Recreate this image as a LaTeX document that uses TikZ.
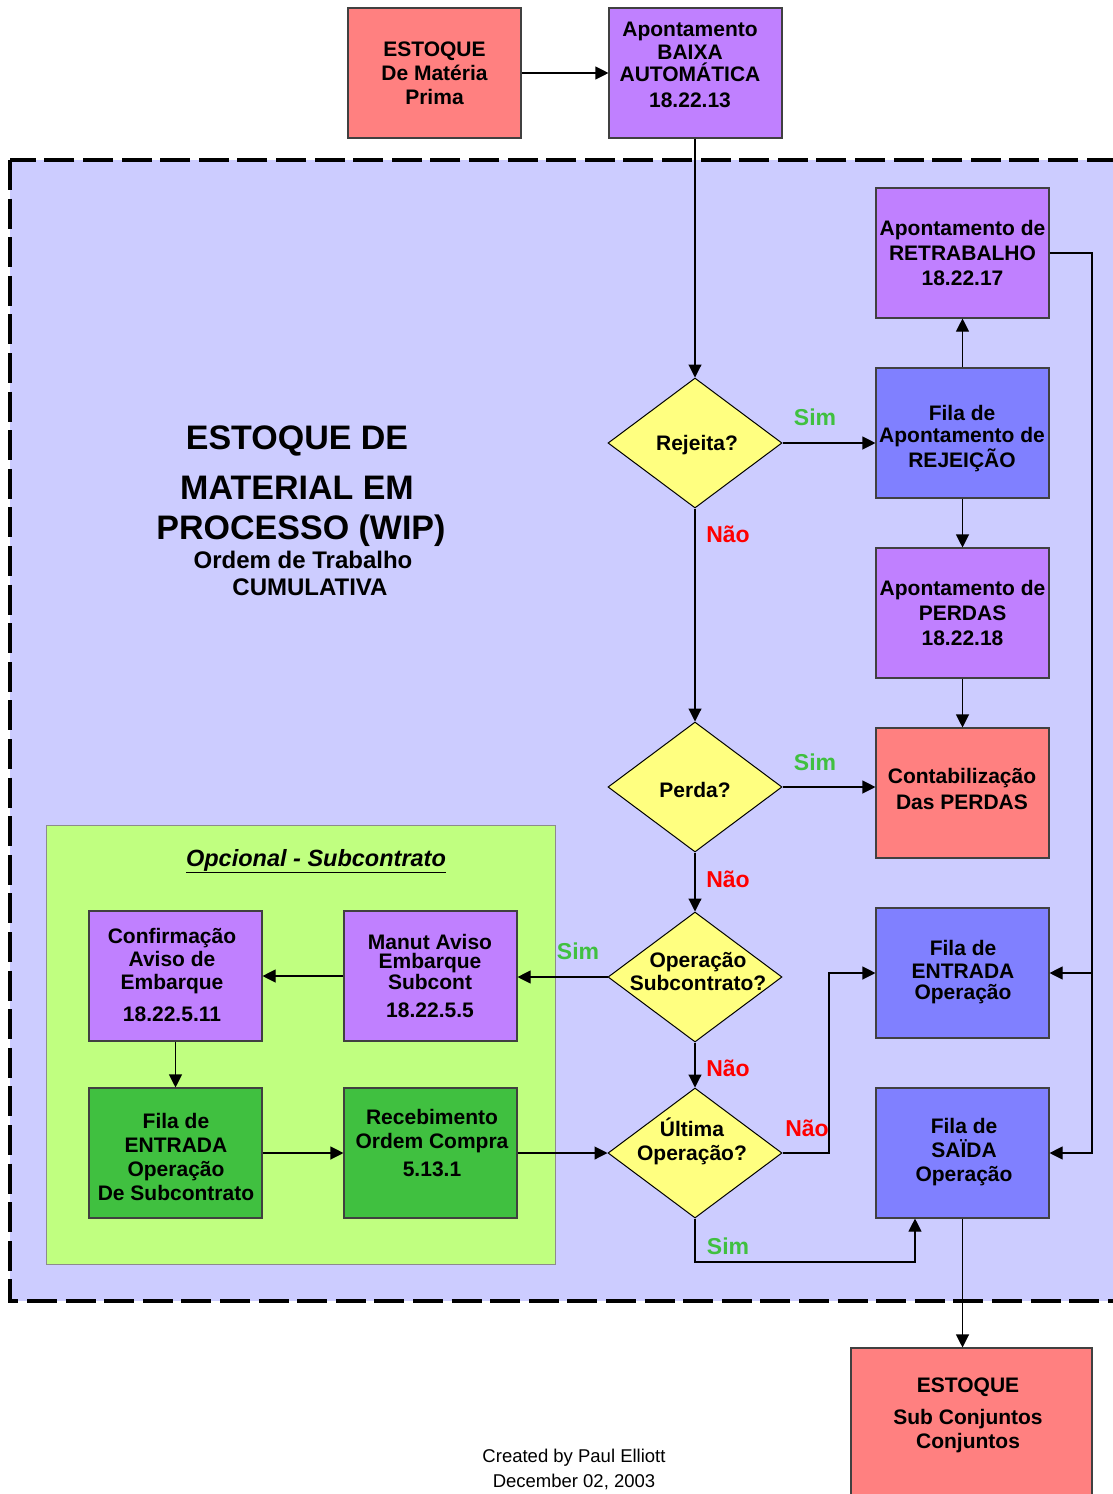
\documentclass[tikz,border=0pt]{standalone}
\usepackage{fontspec}
\setmainfont{Liberation Sans}
\usetikzlibrary{arrows.meta,shapes.geometric}

\definecolor{stockpink}{HTML}{FF8080}
\definecolor{taskviolet}{HTML}{C080FF}
\definecolor{queueblue}{HTML}{8080FF}
\definecolor{askyellow}{HTML}{FFFF80}
\definecolor{wipbg}{HTML}{CCCCFF}
\definecolor{optgreen}{HTML}{C0FF80}
\definecolor{subgreen}{HTML}{40C040}
\definecolor{simgreen}{HTML}{40C040}
\definecolor{naored}{HTML}{FF0000}

\tikzset{
  box/.style={draw=black!75, line width=1.1pt, minimum width=173pt, minimum height=130pt,
              inner sep=0pt, align=center, font=\fontsize{21}{24}\selectfont\bfseries},
  decision/.style={diamond, draw=black, line width=1pt, fill=askyellow,
              minimum width=174pt, minimum height=130pt, inner sep=0pt},
  dtext/.style={align=center, inner sep=0pt, font=\fontsize{21}{23}\selectfont\bfseries},
  btext/.style={align=center, inner sep=0pt, font=\fontsize{21}{24}\selectfont\bfseries},
  flow/.style={line width=1.1pt, -{Triangle[length=13pt,width=13pt]}},
  link/.style={line width=1.1pt},
  yes/.style={text=simgreen, inner sep=0pt, font=\fontsize{23}{26}\selectfont\bfseries},
  no/.style={text=naored, inner sep=0pt, font=\fontsize{23}{26}\selectfont\bfseries},
  bigtitle/.style={inner sep=0pt, font=\fontsize{34}{40}\selectfont\bfseries},
  subtitle/.style={inner sep=0pt, font=\fontsize{24}{27}\selectfont\bfseries},
  credit/.style={inner sep=0pt, font=\fontsize{18.5}{22}\selectfont}
}

\begin{document}
\begin{tikzpicture}[x=1pt,y=-1pt]
\useasboundingbox (0,0) rectangle (1112,1494);
\fill[white] (0,0) rectangle (1112,1494);

% work-in-process area
\draw[fill=wipbg, line width=4.6pt, dash pattern=on 30pt off 8.6pt] (10,160) rectangle (1140,1301);

% optional subcontract area
\draw[fill=optgreen, draw=black!45, line width=1pt] (46,825) rectangle (555,1264);

% area titles
\node[bigtitle] (t1) at (297,441) {ESTOQUE DE};
\node[bigtitle] (t2) at (297,488) {MATERIAL EM};
\node[bigtitle] (t3) at (301,531) {PROCESSO (WIP)};
\node[subtitle] (t4) at (303,560) {Ordem de Trabalho};
\node[subtitle] (t5) at (310,587) {CUMULATIVA};
\node[inner sep=0pt, font=\fontsize{23.5}{26}\selectfont\bfseries\itshape] (opt) at (316,861) {\underline{Opcional - Subcontrato}};

% top row
\node[box, fill=stockpink] (estMP) at (434.5,73) {ESTOQUE\\De Matéria\\Prima};
\node[box, fill=taskviolet] (baixa) at (695.5,73) {};
\node[btext, font=\fontsize{21}{22.5}\selectfont\bfseries] (baixaT) at (690,65) {Apontamento\\BAIXA\\AUTOMÁTICA\\[3pt]18.22.13};

% right column
\node[box, fill=taskviolet] (retrab) at (962.5,253) {Apontamento de\\[1pt]RETRABALHO\\[1pt]18.22.17};
\node[box, fill=queueblue] (filaRej) at (962.5,433) {};
\node[btext] (filaRejT) at (962,439) {Fila de\\[-2pt]Apontamento de\\[1pt]REJEIÇÃO};
\node[box, fill=taskviolet] (perdas) at (962.5,613) {Apontamento de\\[1pt]PERDAS\\[1pt]18.22.18};
\node[box, fill=stockpink] (contab) at (962.5,793) {};
\node[btext] (contabT) at (962,789) {Contabilização\\[2pt]Das PERDAS};
\node[box, fill=queueblue] (filaEnt) at (962.5,973) {};
\node[btext, font=\fontsize{21}{21}\selectfont\bfseries] (filaEntT) at (963,972) {Fila de\\[2pt]ENTRADA\\Operação};
\node[box, fill=queueblue] (filaSai) at (962.5,1153) {};
\node[btext] (filaSaiT) at (964,1152) {Fila de\\SAÏDA\\Operação};
\node[box, fill=stockpink, minimum width=241pt, minimum height=180pt] (estSub) at (971.5,1438) {};
\node[btext] (estSubT) at (968,1415) {ESTOQUE\\[8pt]Sub Conjuntos\\Conjuntos};

% decisions
\node[decision] (rej) at (695,443) {};
\node[dtext] (rejT) at (697,445) {Rejeita?};
\node[decision] (perda) at (695,787) {};
\node[dtext] (perdaT) at (695,790) {Perda?};
\node[decision] (oper) at (695,977) {};
\node[dtext] (operT) at (698,972) {Operação\\Subcontrato?};
\node[decision] (ult) at (695,1153) {};
\node[dtext, font=\fontsize{21}{24}\selectfont\bfseries] (ultT) at (692,1141) {Última\\Operação?};

% subcontract boxes
\node[box, fill=taskviolet] (conf) at (175.5,976) {};
\node[btext, font=\fontsize{21}{23}\selectfont\bfseries] (confT) at (172,975) {Confirmação\\Aviso de\\Embarque\\[9pt]18.22.5.11};
\node[box, fill=taskviolet] (manut) at (430.5,976) {};
\node[btext, font=\fontsize{21}{19.5}\selectfont\bfseries] (manutT) at (430,976) {Manut Aviso\\Embarque\\Subcont\\[9pt]18.22.5.5};
\node[box, fill=subgreen] (filaSub) at (175.5,1153) {};
\node[btext, font=\fontsize{21}{24}\selectfont\bfseries] (filaSubT) at (176,1157) {Fila de\\ENTRADA\\Operação\\De Subcontrato};
\node[box, fill=subgreen] (receb) at (430.5,1153) {};
\node[btext] (recebT) at (432,1143) {Recebimento\\Ordem Compra\\[4pt]5.13.1};

% connectors
\draw[flow] (estMP.east) -- (baixa.west);
\draw[flow] (rej.north |- baixa.south) -- (rej.north);
\draw[flow] (rej.east) -- (rej.east -| filaRej.west);
\draw[flow] (rej.south) -- (perda.north);
\draw[flow] (filaRej.north) -- (retrab.south);
\draw[flow] (filaRej.south) -- (perdas.north);
\draw[flow] (perdas.south) -- (contab.north);
\draw[flow] (perda.east) -- (perda.east -| contab.west);
\draw[flow] (perda.south) -- (oper.north);
\draw[flow] (oper.west) -- (oper.west -| manut.east);
\draw[flow] (manut.west) -- (conf.east);
\draw[flow] (conf.south) -- (filaSub.north);
\draw[flow] (filaSub.east) -- (receb.west);
\draw[flow] (receb.east) -- (ult.west);
\draw[flow] (oper.south) -- (ult.north);

\coordinate (naoBend) at (829,1153);
\draw[flow] (ult.east) -- (naoBend) |- (filaEnt.west);

\coordinate (simBend) at (915,1262);
\draw[flow] (ult.south) |- (simBend) -- (simBend |- filaSai.south);

\coordinate (rail) at (1092,253);
\draw[flow] (retrab.east) -- (rail) |- (filaEnt.east);
\draw[flow] (rail |- filaEnt.east) |- (filaSai.east);

\draw[flow] (filaSai.south) -- (filaSai.south |- estSub.north);

% branch labels
\node[yes] (sim1) at (815,417) {Sim};
\node[no]  (nao1) at (728,534) {Não};
\node[yes] (sim2) at (815,762) {Sim};
\node[no]  (nao2) at (728,879) {Não};
\node[yes] (sim3) at (578,951) {Sim};
\node[no]  (nao3) at (728,1068) {Não};
\node[no]  (nao4) at (807,1128) {Não};
\node[yes] (sim4) at (728,1246) {Sim};

% credits
\node[credit] (cr1) at (574,1458) {Created by Paul Elliott};
\node[credit] (cr2) at (574,1482) {December 02, 2003};
\end{tikzpicture}
\end{document}
